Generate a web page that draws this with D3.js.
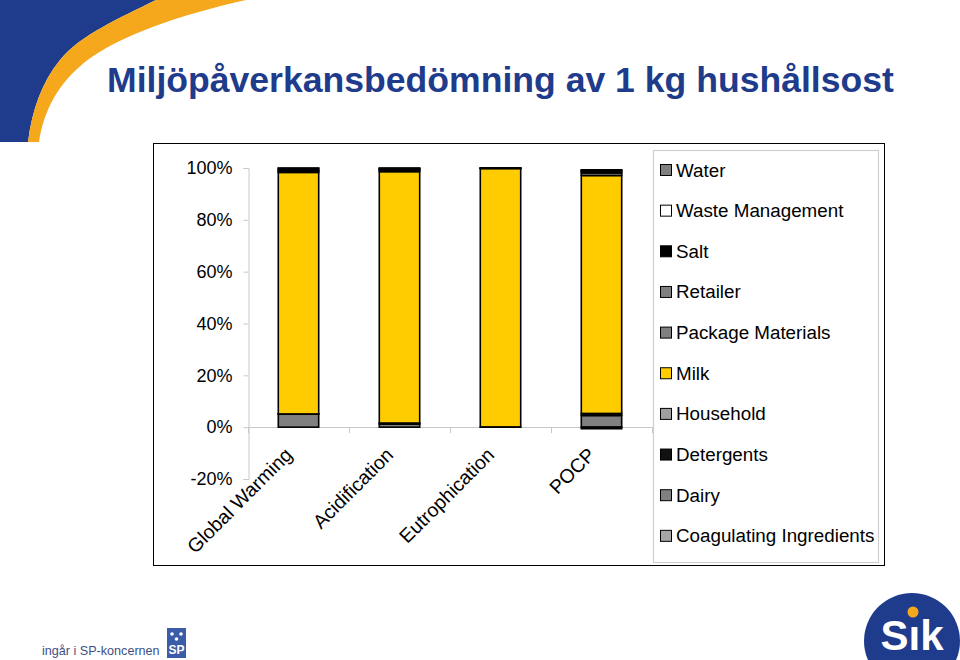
<!DOCTYPE html>
<html>
<head>
<meta charset="utf-8">
<script src="https://cdn.jsdelivr.net/npm/d3@7"></script>
<style>
  html, body { margin: 0; padding: 0; background: #fff; }
  svg { display: block; }
  text { font-family: Arial, "Liberation Sans", sans-serif; }
</style>
</head>
<body>
<svg id="chart" width="960" height="660"></svg>
<script>
// ---- data ----
const categories = ["Global Warming", "Acidification", "Eutrophication", "POCP"];
const seriesNames = ["Coagulating Ingredients", "Dairy", "Detergents", "Household", "Milk",
                     "Package Materials", "Retailer", "Salt", "Waste Management", "Water"];
const coagulating = [0, 0, 0, 0];
const dairy       = [5.0, 1.2, 0.1, 4.5];
const detergents  = [0.1, 0.4, 0, 0.8];
const household   = [0, 0, 0, 0];
const milk        = [93.2, 97.0, 99.7, 91.8];
const packageMat  = [0.6, 0.6, 0.1, 1.0];
const retailer    = [0.2, 0.3, 0, 0.6];
const salt        = [0.7, 0.3, 0.05, 0.4];
const waste       = [0, 0, 0, -0.6];
const water       = [0.2, 0.2, 0.05, 0.2];
const seriesValues = [coagulating, dairy, detergents, household, milk, packageMat, retailer, salt, waste, water];
const seriesColors = ["#a6a6a6", "#808080", "#111111", "#a0a0a0", "#ffcc00",
                      "#808080", "#808080", "#000000", "#ffffff", "#808080"];
const yTicks = [-20, 0, 20, 40, 60, 80, 100];
const titleText = "Miljöpåverkansbedömning av 1 kg hushållsost";

// ---- build table ----
const table = categories.map((c, i) => {
  const row = { category: c };
  seriesNames.forEach((s, j) => row[s] = seriesValues[j][i]);
  return row;
});

const svg = d3.select("#chart");

// ---- decorations ----
svg.append("path")
  .attr("d", "M0,0 L156,0 C120,18 80,35 60,60 C42,82 32,110 28,142 L0,142 Z")
  .attr("fill", "#1f3c8c");
svg.append("path")
  .attr("d", "M156,0 L246,0 C180,15 120,35 85,62 C58,84 44,110 39,142 L28,142 C32,110 42,82 60,60 C80,35 120,18 156,0 Z")
  .attr("fill", "#f5a81c");

svg.append("text")
  .attr("x", 107).attr("y", 92)
  .attr("font-size", 35.6).attr("font-weight", "bold")
  .attr("fill", "#1f3c8c")
  .text(titleText);

// ---- chart frame ----
svg.append("rect")
  .attr("x", 153.5).attr("y", 143.5).attr("width", 731).attr("height", 422)
  .attr("fill", "none").attr("stroke", "#000").attr("stroke-width", 1);

// ---- scales ----
const x = d3.scaleBand().domain(categories).range([248, 652]).paddingInner(0.6).paddingOuter(0.3);
const y = d3.scaleLinear().domain([-20, 100]).range([479, 168]);

// y axis
const yAxis = svg.append("g").attr("transform", "translate(248.5,0)")
  .call(d3.axisLeft(y).tickValues(yTicks).tickSize(5).tickFormat(d => d + "%"));
yAxis.select(".domain").attr("stroke", "#c8c8c8");
yAxis.selectAll(".tick line").attr("stroke", "#c8c8c8");
yAxis.selectAll(".tick text").attr("font-size", 18).attr("fill", "#000")
  .attr("font-family", "Arial, 'Liberation Sans', sans-serif").attr("x", -16);

// x axis at 0
const step = x.step();
const xAxisG = svg.append("g");
xAxisG.append("line")
  .attr("x1", 248).attr("x2", 652).attr("y1", Math.round(y(0)) + 0.5).attr("y2", Math.round(y(0)) + 0.5)
  .attr("stroke", "#c8c8c8");
const boundaries = d3.range(categories.length + 1).map(i => 248 + i * step);
xAxisG.selectAll("line.tk").data(boundaries).join("line")
  .attr("class", "tk")
  .attr("x1", d => Math.round(d) + 0.5).attr("x2", d => Math.round(d) + 0.5)
  .attr("y1", y(0)).attr("y2", y(0) + 6)
  .attr("stroke", "#c8c8c8");

// ---- bars ----
const stack = d3.stack().keys(seriesNames).offset(d3.stackOffsetDiverging);
const stacked = stack(table);
svg.append("g").selectAll("g").data(stacked).join("g")
  .attr("fill", (d, i) => seriesColors[i])
  .selectAll("rect").data(d => d.filter(p => p[1] !== p[0])).join("rect")
  .attr("x", d => x(d.data.category))
  .attr("width", x.bandwidth())
  .attr("y", d => y(Math.max(d[0], d[1])))
  .attr("height", d => Math.abs(y(d[0]) - y(d[1])))
  .attr("stroke", "#000").attr("stroke-width", 1.6);

// category labels
svg.append("g").selectAll("text").data(categories).join("text")
  .attr("transform", d => `translate(${x(d) + x.bandwidth() / 2 - 5},${y(0) + 29}) rotate(-45)`)
  .attr("text-anchor", "end")
  .attr("font-size", 19.5)
  .attr("fill", "#000")
  .text(d => d);

// ---- legend ----
svg.append("rect")
  .attr("x", 653.5).attr("y", 150.5).attr("width", 225).attr("height", 412)
  .attr("fill", "#fff").attr("stroke", "#cfcfcf").attr("stroke-width", 1.2);
const legendOrder = seriesNames.map((s, i) => i).reverse();
const lg = svg.append("g").selectAll("g").data(legendOrder).join("g")
  .attr("transform", (d, k) => `translate(660,${170 + k * 40.65})`);
lg.append("rect")
  .attr("x", 0.5).attr("y", -5.5).attr("width", 11).attr("height", 11)
  .attr("fill", d => seriesColors[d]).attr("stroke", "#000").attr("stroke-width", 1);
lg.append("text")
  .attr("x", 16).attr("y", 6.5)
  .attr("font-size", 18.8).attr("fill", "#000")
  .text(d => seriesNames[d]);

// ---- bottom-left footer ----
svg.append("text")
  .attr("x", 42).attr("y", 655)
  .attr("font-size", 12.6).attr("fill", "#3e4f86")
  .text("ingår i SP-koncernen");
svg.append("rect").attr("x", 167).attr("y", 628).attr("width", 19).attr("height", 30).attr("fill", "#3b5ca8");
svg.append("text").attr("x", 176.5).attr("y", 654).attr("text-anchor", "middle")
  .attr("font-size", 12).attr("font-weight", "bold").attr("fill", "#fff")
  .attr("font-family", "'Liberation Serif', serif").text("SP");
[[172, 634], [181, 634], [176.5, 639]].forEach(([cx, cy]) =>
  svg.append("circle").attr("cx", cx).attr("cy", cy).attr("r", 1.8).attr("fill", "#fff"));

// ---- Sik logo ----
svg.append("clipPath").attr("id", "sikclip").append("rect")
  .attr("x", 850).attr("y", 580).attr("width", 110).attr("height", 80);
svg.append("circle").attr("cx", 912).attr("cy", 641).attr("r", 48)
  .attr("fill", "#1f3c8c").attr("clip-path", "url(#sikclip)");
svg.append("text").attr("x", 912).attr("y", 650).attr("text-anchor", "middle")
  .attr("font-size", 42).attr("font-weight", "bold").attr("fill", "#fff")
  .text("Sık");
svg.append("circle").attr("cx", 913).attr("cy", 612).attr("r", 5.5).attr("fill", "#f5a81c");
</script>
</body>
</html>
